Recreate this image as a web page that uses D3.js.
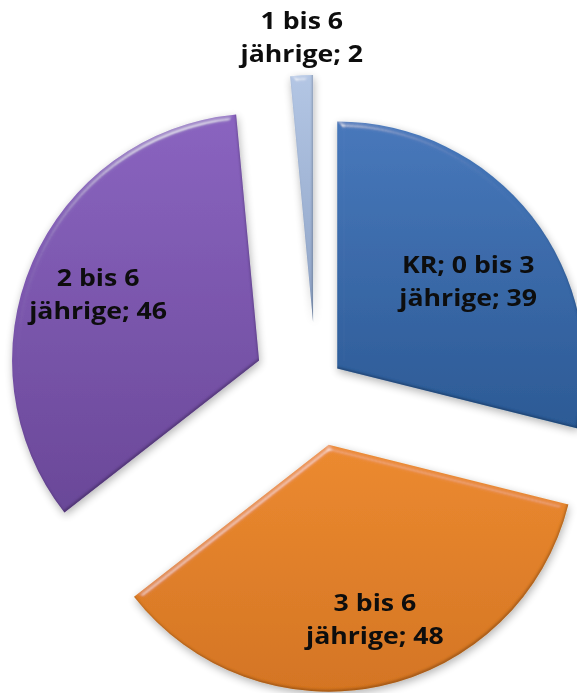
<!DOCTYPE html>
<html>
<head>
<meta charset="utf-8">
<script src="https://cdn.jsdelivr.net/npm/d3@7/dist/d3.min.js"></script>
<style>
  html, body { margin: 0; padding: 0; background: #ffffff; }
  svg { display: block; }
</style>
</head>
<body>
<div id="chart"></div>
<script>
// ---- data ----
const categories = ["KR; 0 bis 3 jährige", "3 bis 6 jährige", "2 bis 6 jährige", "1 bis 6 jährige"];
const values = [39, 48, 46, 2];

// ---- styles ----
const colorsTop = ["#4878bb", "#ec8a30", "#8a64c0", "#b3c6e4"];
const colorsBottom = ["#2c5a95", "#d47524", "#6a4898", "#8ea3c6"];
const explode = [27, 61, 62, 63];          // px each slice is pulled out
const labelRadius = [157, 181, 174, 285];   // px from slice vertex
const labelShift = [4.5, -2.8, -1, 0.4];    // degrees

const W = 577, H = 693;
const cx = 316, cy = 385, R = 247;

const svg = d3.select("#chart").append("svg")
  .attr("width", W).attr("height", H);

const defs = svg.append("defs");

categories.forEach((c, i) => {
  const g = defs.append("linearGradient").attr("id", "grad" + i)
    .attr("x1", 0).attr("y1", 0).attr("x2", 0).attr("y2", 1);
  g.append("stop").attr("offset", "0%").attr("stop-color", colorsTop[i]);
  g.append("stop").attr("offset", "100%").attr("stop-color", colorsBottom[i]);
});

// bevel filter
const bev = defs.append("filter").attr("id", "bevel")
  .attr("x", "-5%").attr("y", "-5%").attr("width", "110%").attr("height", "110%");
bev.append("feGaussianBlur").attr("in", "SourceAlpha").attr("stdDeviation", 3).attr("result", "blur");
const spec = bev.append("feSpecularLighting").attr("in", "blur").attr("surfaceScale", 5)
  .attr("specularConstant", 0.9).attr("specularExponent", 30)
  .attr("lighting-color", "#ffffff").attr("result", "spec");
spec.append("feDistantLight").attr("azimuth", 250).attr("elevation", 22);
bev.append("feComposite").attr("in", "spec").attr("in2", "SourceAlpha").attr("operator", "in").attr("result", "specIn");
bev.append("feComponentTransfer").attr("in", "specIn").attr("result", "specSoft")
  .append("feFuncA").attr("type", "linear").attr("slope", 0.55);
bev.append("feGaussianBlur").attr("in", "SourceAlpha").attr("stdDeviation", 1.2).attr("result", "blur2");
bev.append("feOffset").attr("in", "blur2").attr("dx", -1.5).attr("dy", -2).attr("result", "offBlur");
bev.append("feComposite").attr("in", "SourceAlpha").attr("in2", "offBlur").attr("operator", "out").attr("result", "edge");
bev.append("feFlood").attr("flood-color", "#000").attr("flood-opacity", 0.45).attr("result", "dark");
bev.append("feComposite").attr("in", "dark").attr("in2", "edge").attr("operator", "in").attr("result", "innerShadow");
const m = bev.append("feMerge");
m.append("feMergeNode").attr("in", "SourceGraphic");
m.append("feMergeNode").attr("in", "specSoft");
m.append("feMergeNode").attr("in", "innerShadow");

// drop shadow
const ds = defs.append("filter").attr("id", "shadow")
  .attr("x", "-10%").attr("y", "-10%").attr("width", "120%").attr("height", "120%");
ds.append("feGaussianBlur").attr("in", "SourceAlpha").attr("stdDeviation", 4).attr("result", "b");
ds.append("feOffset").attr("in", "b").attr("dx", 1).attr("dy", 3).attr("result", "o");
ds.append("feComponentTransfer").attr("in", "o").attr("result", "oa")
  .append("feFuncA").attr("type", "linear").attr("slope", 0.3);
const dm = ds.append("feMerge");
dm.append("feMergeNode").attr("in", "oa");
dm.append("feMergeNode").attr("in", "SourceGraphic");

const pie = d3.pie().sort(null).value(d => d)(values);
const arc = d3.arc().innerRadius(0).outerRadius(R);

const slices = svg.append("g").attr("filter", "url(#shadow)");

pie.forEach((p, i) => {
  const mid = (p.startAngle + p.endAngle) / 2;
  const ox = cx + explode[i] * Math.sin(mid);
  const oy = cy - explode[i] * Math.cos(mid);
  slices.append("path")
    .attr("transform", `translate(${ox},${oy})`)
    .attr("d", arc(p))
    .attr("fill", `url(#grad${i})`)
    .attr("filter", "url(#bevel)");

  const la = mid + labelShift[i] * Math.PI / 180;
  const lx = ox + labelRadius[i] * Math.sin(la);
  const ly = oy - labelRadius[i] * Math.cos(la);
  const line1 = categories[i].replace(" jährige", "");
  const line2 = "jährige; " + values[i];
  const t = svg.append("g").attr("transform", `translate(${lx},${ly}) scale(1.16,1)`);
  t.append("text").attr("x", 0).attr("y", -8.5).text(line1);
  t.append("text").attr("x", 0).attr("y", 24.5).text(line2);
});

svg.selectAll("text")
  .attr("text-anchor", "middle")
  .attr("font-family", "'Open Sans', sans-serif")
  .attr("font-weight", 700)
  .attr("font-size", 23)
  .attr("fill", "#0d0d0d");
</script>
</body>
</html>
